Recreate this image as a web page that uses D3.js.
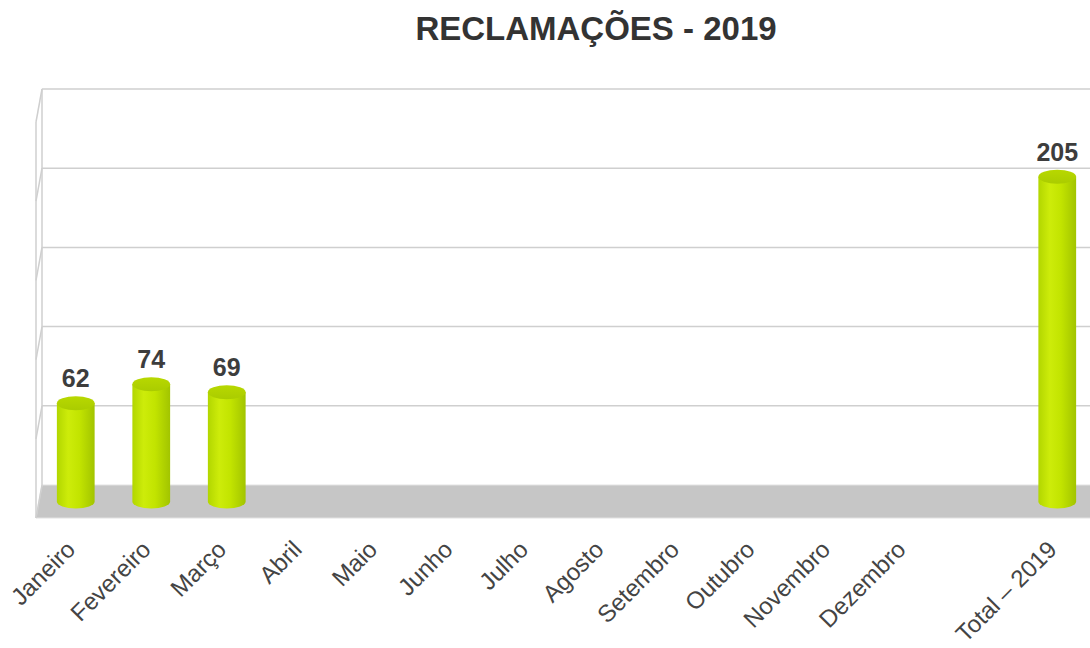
<!DOCTYPE html>
<html>
<head>
<meta charset="utf-8">
<script src="https://cdn.jsdelivr.net/npm/d3@7"></script>
<style>
  body { margin: 0; background: #fff; }
  svg { font-family: "Liberation Sans", Arial, sans-serif; }
</style>
</head>
<body>
<svg width="1090" height="648"></svg>
<script>
// data
var months = ["Janeiro", "Fevereiro", "Março", "Abril", "Maio", "Junho", "Julho",
              "Agosto", "Setembro", "Outubro", "Novembro", "Dezembro"];
var monthValues = [62, 74, 69, null, null, null, null, null, null, null, null, null];
var totalLabel = "Total – 2019";
var totalValue = 205;
var gridTicks = [0, 50, 100, 150, 200, 250];

var categories = months.concat([" ", totalLabel]);
var values = monthValues.concat([null, totalValue]);

var svg = d3.select("svg");

var plotLeft = 42, plotRight = 1099, plotTop = 89, floorY = 485,
    depthX = -6, depthY = 33;

var x = d3.scaleBand()
    .domain(categories)
    .range([plotLeft, plotRight])
    .paddingInner(0.5)
    .paddingOuter(0.25);

var y = d3.scaleLinear()
    .domain([0, 250])
    .range([floorY, plotTop]);

var defs = svg.append("defs");
var bodyGrad = defs.append("linearGradient").attr("id", "cyl");
bodyGrad.append("stop").attr("offset", "0%").attr("stop-color", "#b2d600");
bodyGrad.append("stop").attr("offset", "30%").attr("stop-color", "#cdec0a");
bodyGrad.append("stop").attr("offset", "60%").attr("stop-color", "#c2e400");
bodyGrad.append("stop").attr("offset", "100%").attr("stop-color", "#a2c400");
var topGrad = defs.append("linearGradient").attr("id", "cyltop")
    .attr("x1", "0").attr("y1", "0").attr("x2", "0").attr("y2", "1");
topGrad.append("stop").attr("offset", "0%").attr("stop-color", "#b8d800");
topGrad.append("stop").attr("offset", "100%").attr("stop-color", "#aacc00");

// title
svg.append("text")
    .attr("x", 596)
    .attr("y", 40)
    .attr("text-anchor", "middle")
    .attr("font-size", 33)
    .attr("font-weight", "bold")
    .attr("fill", "#333")
    .text("RECLAMAÇÕES - 2019");

// floor
svg.append("path")
    .attr("d", "M" + plotLeft + "," + floorY + "L" + plotRight + "," + floorY +
               "L" + (plotRight + depthX) + "," + (floorY + depthY) +
               "L" + (plotLeft + depthX) + "," + (floorY + depthY) + "Z")
    .attr("fill", "#c6c6c6")
    .attr("stroke", "#e2e2e2")
    .attr("stroke-width", 1);

// back wall gridlines + side wall
var grid = svg.append("g").attr("stroke", "#cfcfcf").attr("stroke-width", 1.5).attr("fill", "none");
gridTicks.forEach(function(t) {
  if (t > 0) {
    grid.append("line")
        .attr("x1", plotLeft).attr("x2", plotRight)
        .attr("y1", y(t)).attr("y2", y(t));
  }
  grid.append("line")
      .attr("x1", plotLeft).attr("y1", y(t))
      .attr("x2", plotLeft + depthX).attr("y2", y(t) + depthY);
});
grid.append("line")
    .attr("x1", plotLeft).attr("x2", plotLeft)
    .attr("y1", y(250)).attr("y2", floorY);
grid.append("line")
    .attr("x1", plotLeft + depthX).attr("x2", plotLeft + depthX)
    .attr("y1", y(250) + depthY).attr("y2", floorY + depthY);

// cylinders
var bw = x.bandwidth(), ry = 7;
var bars = svg.append("g");
categories.forEach(function(c, i) {
  var v = values[i];
  if (v == null) return;
  var cx = x(c) + bw / 2 + depthX / 2 - 1;
  var y0 = y(0) + depthY / 2, y1 = y(v) + depthY / 2;
  var rx = bw / 2;
  bars.append("path")
      .attr("d", "M" + (cx - rx) + "," + y1 +
                 "L" + (cx - rx) + "," + y0 +
                 "A" + rx + "," + ry + " 0 0 0 " + (cx + rx) + "," + y0 +
                 "L" + (cx + rx) + "," + y1 + "Z")
      .attr("fill", "url(#cyl)");
  bars.append("ellipse")
      .attr("cx", cx).attr("cy", y1)
      .attr("rx", rx).attr("ry", ry)
      .attr("fill", "url(#cyltop)");
  bars.append("text")
      .attr("x", cx)
      .attr("y", y1 - ry - 9)
      .attr("text-anchor", "middle")
      .attr("font-size", 25)
      .attr("font-weight", "bold")
      .attr("fill", "#3d3d3d")
      .text(v);
});

// category axis
var axis = svg.append("g")
    .attr("transform", "translate(" + (depthX / 2) + "," + (floorY + depthY + 33) + ")")
    .call(d3.axisBottom(x).tickSize(0).tickPadding(0));
axis.select(".domain").remove();
axis.selectAll("text")
    .attr("font-family", "Liberation Sans, Arial, sans-serif")
    .attr("font-size", 24)
    .attr("fill", "#444")
    .attr("text-anchor", "end")
    .attr("dy", 0)
    .attr("y", 0)
    .attr("transform", "rotate(-45)");
</script>
</body>
</html>
